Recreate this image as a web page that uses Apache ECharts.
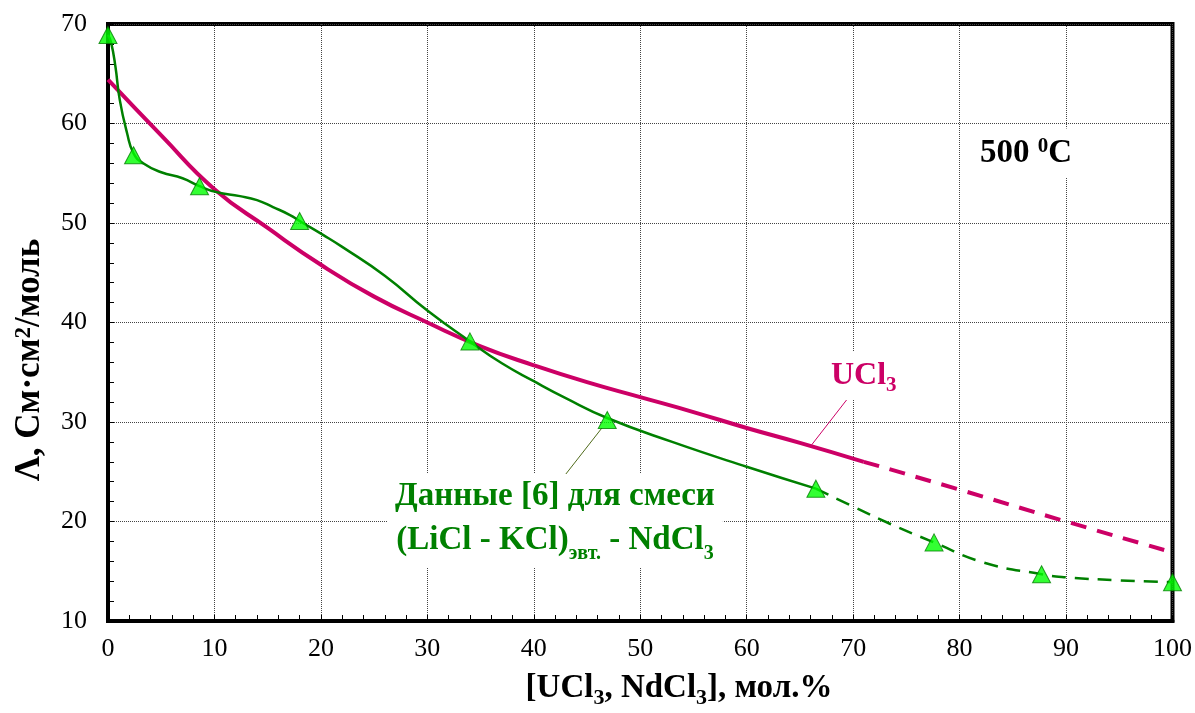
<!DOCTYPE html>
<html>
<head>
<meta charset="utf-8">
<script src="https://cdn.jsdelivr.net/npm/echarts@6/dist/echarts.min.js"></script>
<style>
  html, body { margin: 0; padding: 0; background: #fff; }
  #chart { width: 1195px; height: 713px; }
</style>
</head>
<body>
<div id="chart"></div>
<script>
// measured points, NdCl3 in (LiCl-KCl) eutectic, ref [6]
const ndX = [0, 2.4, 8.6, 18, 34, 46.9, 66.5, 77.6, 87.7, 100]
const ndY = [68.9, 56.8, 53.7, 50.2, 38.1, 30.2, 23.3, 17.9, 14.7, 13.9]

// green fitted curve, solid and extrapolated parts
const ndCurveX = [0, 0.3, 0.7, 1.1, 1.8, 2.4, 3.3, 5, 7, 8.6, 10.2, 12.4, 14, 15.5, 17.1, 18, 20.2, 22, 26, 30, 34, 37, 40, 43, 46.9, 53, 60, 66.5]
const ndCurveY = [68.9, 68.1, 65.7, 62.4, 59.0, 57.0, 56.0, 55.1, 54.5, 53.7, 53.1, 52.7, 52.3, 51.6, 50.8, 50.2, 48.8, 47.6, 44.7, 41.2, 38.1, 35.9, 34.1, 32.4, 30.4, 28.0, 25.5, 23.3]
const ndDashX = [66.5, 70, 73.4, 77.6, 82.2, 87.7, 90, 94.7, 100]
const ndDashY = [23.3, 21.5, 19.8, 17.9, 15.9, 14.7, 14.4, 14.1, 13.9]

// UCl3 curve
const uX = [0, 5, 10, 15, 20, 25, 30, 35, 40, 45, 50, 55, 60, 65, 71]
const uY = [64.4, 58.8, 53.4, 49.5, 45.8, 42.6, 40.0, 37.6, 35.7, 34.0, 32.5, 31.0, 29.4, 27.9, 26.0]
const uDashX = [71, 80, 90, 100]
const uDashY = [26.0, 23.2, 20.0, 16.9]

const zip = (xs, ys) => xs.map((x, i) => [x, ys[i]])

const GREEN = '#008000'
const MAGENTA = '#cc0066'
const FONT = 'Liberation Serif'

const chart = echarts.init(document.getElementById('chart'))

const option = {
  animation: false,
  textStyle: { fontFamily: FONT },
  grid: {
    left: 108,
    right: 22,
    top: 24,
    bottom: 92,
    show: true,
    borderColor: '#000',
    borderWidth: 4
  },
  xAxis: {
    type: 'value',
    min: 0,
    max: 100,
    interval: 10,
    axisLine: { show: true, lineStyle: { color: '#000', width: 4 } },
    axisTick: { show: true, inside: true, length: 6, lineStyle: { color: '#000', width: 1 } },
    minorTick: { show: true, splitNumber: 5, length: 6, lineStyle: { color: '#000', width: 1 } },
    axisLabel: { color: '#000', fontSize: 26, fontFamily: FONT, margin: 15 },
    splitLine: { show: true, lineStyle: { color: '#444', type: 'dotted', width: 1 } }
  },
  yAxis: {
    type: 'value',
    min: 10,
    max: 70,
    interval: 10,
    axisLine: { show: true, lineStyle: { color: '#000', width: 4 } },
    axisTick: { show: true, inside: true, length: 6, lineStyle: { color: '#000', width: 1 } },
    minorTick: { show: true, splitNumber: 5, length: 6, lineStyle: { color: '#000', width: 1 } },
    axisLabel: { color: '#000', fontSize: 26, fontFamily: FONT, margin: 21 },
    splitLine: { show: true, lineStyle: { color: '#444', type: 'dotted', width: 1 } }
  },
  series: [
    {
      name: 'UCl3',
      type: 'line',
      data: zip(uX, uY),
      smooth: 0.5,
      showSymbol: false,
      lineStyle: { color: MAGENTA, width: 4 },
      markLine: {
        silent: true,
        symbol: 'none',
        label: { show: false },
        lineStyle: { color: MAGENTA, width: 1, type: 'solid' },
        data: [[{ coord: [70.1, 33.2] }, { coord: [66.1, 27.7] }]]
      },
      z: 3
    },
    {
      name: 'UCl3 extrapolated',
      type: 'line',
      data: zip(uDashX, uDashY),
      smooth: 0.5,
      showSymbol: false,
      lineStyle: { color: MAGENTA, width: 4, type: [16, 11] },
      z: 3
    },
    {
      name: 'NdCl3 curve',
      type: 'line',
      data: zip(ndCurveX, ndCurveY),
      smooth: 0.5,
      showSymbol: false,
      lineStyle: { color: GREEN, width: 2.5 },
      markLine: {
        silent: true,
        symbol: 'none',
        label: { show: false },
        lineStyle: { color: '#4f6a1a', width: 1, type: 'solid' },
        data: [[{ coord: [42.3, 23.8] }, { coord: [46.4, 29.4] }]]
      },
      z: 3
    },
    {
      name: 'NdCl3 extrapolated',
      type: 'line',
      data: zip(ndDashX, ndDashY),
      smooth: 0.5,
      showSymbol: false,
      lineStyle: { color: GREEN, width: 2.5, type: [14, 9] },
      z: 3
    },
    {
      name: 'NdCl3 data',
      type: 'scatter',
      data: zip(ndX, ndY),
      symbol: 'triangle',
      symbolSize: [18, 17],
      itemStyle: { color: '#00ff00', borderColor: GREEN, borderWidth: 1 },
      z: 5
    }
  ],
  graphic: [
    {
      type: 'text',
      z: 100,
      x: 30,
      y: 360,
      rotation: Math.PI / 2,
      style: {
        text: 'Λ, См·см{sup|2}/моль',
        font: 'bold 35px "Liberation Serif"',
        fill: '#000',
        align: 'center',
        verticalAlign: 'middle',
        rich: {
          sup: { font: 'bold 23px "Liberation Serif"', fill: '#000', verticalAlign: 'top', lineHeight: 34 }
        }
      }
    },
    {
      type: 'text',
      z: 100,
      x: 679,
      y: 688,
      style: {
        text: '[UCl{sub|3}, NdCl{sub|3}], мол.%',
        font: 'bold 33px "Liberation Serif"',
        fill: '#000',
        align: 'center',
        verticalAlign: 'middle',
        rich: {
          sub: { font: 'bold 22px "Liberation Serif"', fill: '#000', verticalAlign: 'bottom', lineHeight: 42 }
        }
      }
    },
    {
      type: 'text',
      z: 100,
      x: 976,
      y: 153,
      style: {
        text: '500 {sup|0}C',
        font: 'bold 33px "Liberation Serif"',
        fill: '#000',
        align: 'left',
        verticalAlign: 'middle',
        backgroundColor: '#fff',
        padding: [8, 4, 8, 4],
        rich: {
          sup: { font: 'bold 21px "Liberation Serif"', fill: '#000', verticalAlign: 'top', lineHeight: 33 }
        }
      }
    },
    {
      type: 'text',
      z: 100,
      x: 827,
      y: 376,
      style: {
        text: 'UCl{sub|3}',
        font: 'bold 32px "Liberation Serif"',
        fill: MAGENTA,
        align: 'left',
        verticalAlign: 'middle',
        backgroundColor: '#fff',
        padding: [4, 4, 4, 4],
        rich: {
          sub: { font: 'bold 21px "Liberation Serif"', fill: MAGENTA, verticalAlign: 'bottom', lineHeight: 40 }
        }
      }
    },
    {
      type: 'text',
      z: 100,
      x: 555,
      y: 521,
      style: {
        text: 'Данные [6] для смеси\n(LiCl - KCl){sub|эвт.} - NdCl{sub|3}',
        font: 'bold 33px "Liberation Serif"',
        fill: GREEN,
        align: 'center',
        verticalAlign: 'middle',
        lineHeight: 40,
        backgroundColor: '#fff',
        padding: [2, 8, 4, 8],
        rich: {
          sub: { font: 'bold 20px "Liberation Serif"', fill: GREEN, verticalAlign: 'bottom', lineHeight: 48 }
        }
      }
    }
  ]
}

chart.setOption(option)
</script>
</body>
</html>
